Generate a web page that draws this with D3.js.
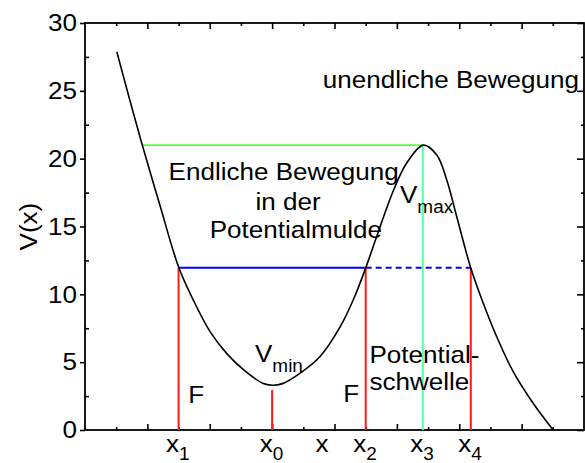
<!DOCTYPE html>
<html><head><meta charset="utf-8">
<script src="https://cdn.jsdelivr.net/npm/d3@7"></script>
<style>
html,body{margin:0;padding:0;background:#fff;}
text{font-family:"Liberation Sans",Arial,Helvetica,sans-serif;fill:#000;}
</style></head>
<body><svg id="c" width="585" height="463"></svg>
<script>
// Potential curve V(x)
const curveX = [1.02,1.41,1.82,2.40,3.01,3.49,4.01,4.54,5.08,5.72,6.00,6.31,6.89,7.53,8.18,8.60,9.00,9.35,9.88,10.31,10.85,11.28,11.60,11.92,12.37,12.77,13.20,13.73,14.37,15.01];
const curveV = [27.88,24.55,21.13,16.58,11.96,9.5,7.25,5.65,4.45,3.42,3.3,3.4,4.18,5.4,7.6,9.58,11.94,14.25,17.6,19.66,21.0,20.27,18.43,15.72,11.94,9.34,6.88,4.3,1.97,0.0];
// special positions
const markNames = ["1","0","2","3","4"];
const markX = [3.0, 6.0, 9.0, 10.83, 12.37];
const energyMax = 21;   // V_max level
const energyE = 11.96;  // total energy level
const vMinMark = 2.95;
const greenStart = 1.84;
const yTicks = [0,5,10,15,20,25,30];
const yMinor = [2.5,7.5,12.5,17.5,22.5,27.5];
const xMajor = [2,4,6,8,10,12,14];
const xMinor = [1,3,5,7,9,11,13,15];

const L=85, R=584, T=23, B=430, SX=1.085, FS=24, SUB=17.5;
const svg=d3.select("#c");
const x=d3.scaleLinear().domain([0,16]).range([L,R]);
const y=d3.scaleLinear().domain([0,30]).range([B,T]);

// axes
const ax=svg.append("g");
const left=ax.append("g").attr("transform",`translate(${L},0)`)
  .call(d3.axisLeft(y).tickValues(yTicks).tickSize(5).tickPadding(3).tickSizeOuter(0));
left.selectAll("text").attr("font-family",null).style("font-size",FS+"px")
  .attr("x",0).attr("transform","translate(-8,0) scale("+SX+",1)");
ax.append("g").attr("transform",`translate(${L},0)`)
  .call(d3.axisRight(y).tickValues(yMinor).tickSize(4).tickFormat("").tickSizeOuter(0));
ax.append("g").attr("transform",`translate(${R},0)`)
  .call(d3.axisLeft(y).tickValues(yTicks).tickSize(7).tickFormat("").tickSizeOuter(0));
ax.append("g").attr("transform",`translate(${R},0)`)
  .call(d3.axisLeft(y).tickValues(yMinor).tickSize(3).tickFormat("").tickSizeOuter(0));
ax.append("g").attr("transform",`translate(0,${B})`)
  .call(d3.axisTop(x).tickValues(xMajor).tickSize(6).tickFormat("").tickSizeOuter(0));
ax.append("g").attr("transform",`translate(0,${B})`)
  .call(d3.axisTop(x).tickValues(xMinor).tickSize(3).tickFormat("").tickSizeOuter(0));
ax.append("g").attr("transform",`translate(0,${T})`)
  .call(d3.axisBottom(x).tickValues(xMajor).tickSize(6).tickFormat("").tickSizeOuter(0));
ax.append("g").attr("transform",`translate(0,${T})`)
  .call(d3.axisBottom(x).tickValues(xMinor).tickSize(3).tickFormat("").tickSizeOuter(0));
ax.selectAll(".domain").remove();
ax.selectAll("line").attr("stroke","#000").attr("stroke-width",1.6);
svg.append("rect").attr("x",L).attr("y",T).attr("width",R-L).attr("height",B-T)
  .attr("fill","none").attr("stroke","#000").attr("stroke-width",1.8);

// y label
svg.append("text").attr("transform",`translate(37,${(y(15)+y(20))/2+34}) rotate(-90) scale(${SX},1)`)
  .attr("text-anchor","middle").style("font-size",FS+"px").text("V(x)");

// horizontal energy lines
svg.append("line").attr("x1",x(greenStart)).attr("x2",x(markX[3])).attr("y1",y(energyMax)).attr("y2",y(energyMax))
  .attr("stroke","#5cff3c").attr("stroke-width",1.6);
svg.append("line").attr("x1",x(markX[0])).attr("x2",x(markX[2])).attr("y1",y(energyE)).attr("y2",y(energyE))
  .attr("stroke","#0000ff").attr("stroke-width",1.8);
svg.append("line").attr("x1",x(markX[2])).attr("x2",x(markX[4])).attr("y1",y(energyE)).attr("y2",y(energyE))
  .attr("stroke","#0000ff").attr("stroke-width",1.8).attr("stroke-dasharray","6,4");

// vertical lines
[0,2,4].forEach(i=>{
  svg.append("line").attr("x1",x(markX[i])).attr("x2",x(markX[i])).attr("y1",y(0)).attr("y2",y(energyE))
    .attr("stroke","#ff1a1a").attr("stroke-width",2);
});
svg.append("line").attr("x1",x(markX[1])).attr("x2",x(markX[1])).attr("y1",y(0)).attr("y2",y(vMinMark))
  .attr("stroke","#ff1a1a").attr("stroke-width",2);
svg.append("line").attr("x1",x(markX[3])).attr("x2",x(markX[3])).attr("y1",y(0)).attr("y2",y(energyMax))
  .attr("stroke","#55ffaa").attr("stroke-width",2);

// curve
const pts=curveX.map((v,i)=>[v,curveV[i]]);
svg.append("path").datum(pts)
  .attr("d",d3.line().x(d=>x(d[0])).y(d=>y(d[1])).curve(d3.curveCatmullRom.alpha(0.5)))
  .attr("fill","none").attr("stroke","#000").attr("stroke-width",1.6);

// annotations
function txtPx(px,py,s,anchor){
  return svg.append("text").attr("transform",`translate(${px},${py}) scale(${SX},1)`)
    .attr("text-anchor",anchor||"start").style("font-size",FS+"px").text(s);
}
function txt(xv,yv,s,anchor){ return txtPx(x(xv),y(yv),s,anchor); }
txt(15.84,25.21,"unendliche Bewegung","end");
txt(6.37,18.43,"Endliche Bewegung","middle");
txt(6.51,16.22,"in der","middle");
txt(6.76,14.15,"Potentialmulde","middle");
txt(9.12,4.92,"Potential-");
txt(9.12,2.95,"schwelle");
txt(3.31,1.97,"F");
txt(8.28,2.09,"F");
function subTxt(t,s,dy){
  t.append("tspan").attr("dy",dy).style("font-size",SUB+"px").text(s);
}
subTxt(txt(5.45,5.03,"V"),"min",10);
subTxt(txt(10.1,16.73,"V"),"max",10);
// x labels
markX.forEach((m,i)=>{
  subTxt(txtPx(x(m)-12.5,B+22,"x"),markNames[i],7.5);
});
txtPx(x(7.6),B+22,"x","middle");
</script></body></html>
